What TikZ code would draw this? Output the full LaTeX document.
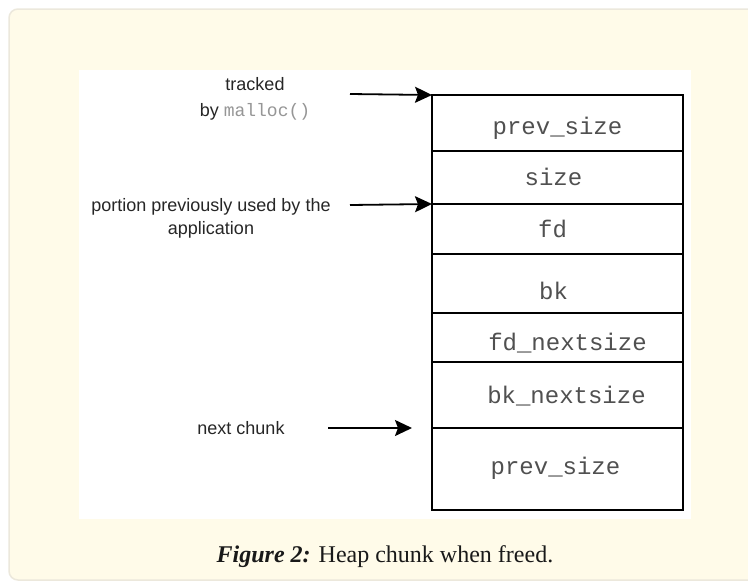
\documentclass[tikz,border=0pt]{standalone}
\usepackage{fontspec}
\setmainfont{Liberation Serif}
\setsansfont{Liberation Sans}
\setmonofont{Liberation Mono}
\usetikzlibrary{arrows.meta}
\definecolor{panelcolor}{RGB}{255,251,233}
\definecolor{edgecolor}{RGB}{236,232,220}
\definecolor{fieldcolor}{RGB}{80,80,80}
\definecolor{mallocgray}{RGB}{150,150,150}

\begin{document}
\begin{tikzpicture}[x=1pt,y=-1pt,
  field/.style={draw,line width=1.6pt,minimum width=251pt,inner sep=0pt,outer sep=0pt},
  fieldtext/.style={font=\ttfamily\fontsize{24}{24}\selectfont,text=fieldcolor,inner sep=0pt},
  tag/.style={font=\sffamily\fontsize{18}{26}\selectfont,align=center,text=black!85},
  pointer/.style={-{Stealth[length=17pt,width=16pt,inset=3pt]},line width=1.8pt}]
\useasboundingbox (0,0) rectangle (748,582);
\fill[white] (0,0) rectangle (748,582);
\draw[edgecolor,fill=panelcolor,line width=1.5pt,rounded corners=9pt] (9,9) rectangle (790,580);
\fill[white] (79,70) rectangle (691,519);
% chunk fields
\node[field,minimum height=56pt,label={[fieldtext,yshift=-5pt]center:prev\_size}] (prevsize) at (557.5,123) {};
\node[field,minimum height=53pt,label={[fieldtext,xshift=-4pt,yshift=1pt]center:size}] (size) at (557.5,177.5) {};
\node[field,minimum height=50pt,label={[fieldtext,xshift=-5pt]center:fd}] (fd) at (557.5,229) {};
\node[field,minimum height=59pt,label={[fieldtext,xshift=-4pt,yshift=-7pt]center:bk}] (bk) at (557.5,283.5) {};
\node[field,minimum height=49pt,label={[fieldtext,xshift=10pt,yshift=-6pt]center:fd\_nextsize}] (fdnext) at (557.5,337.5) {};
\node[field,minimum height=66pt,label={[fieldtext,xshift=9pt,yshift=-1pt]center:bk\_nextsize}] (bknext) at (557.5,395) {};
\node[field,minimum height=82pt,label={[fieldtext,xshift=-2pt,yshift=1pt]center:prev\_size}] (nextprev) at (557.5,469) {};
% labels
\node[tag] (tracked) at (255,99) {tracked\\by {\ttfamily\color{mallocgray}malloc()}};
\node[tag,font=\sffamily\fontsize{18}{23}\selectfont] (portion) at (211,218.5) {portion previously used by the\\application};
\node[tag] (nextchunk) at (241,428) {next chunk};
\coordinate (trackedtail) at (350,94);
\coordinate (portiontail) at (350,205);
\coordinate (chunktail) at (328,428);
\coordinate (chunktip) at (412,428);
\draw[pointer] (trackedtail) -- (prevsize.north west);
\draw[pointer] (portiontail) -- (fd.north west);
\draw[pointer] (chunktail) -- (chunktip);
% caption
\node[font=\fontsize{24}{24}\selectfont,text=black!90] (caption) at (385,557) {\textbf{\textit{Figure 2:}} Heap chunk when freed.};
\end{tikzpicture}
\end{document}
